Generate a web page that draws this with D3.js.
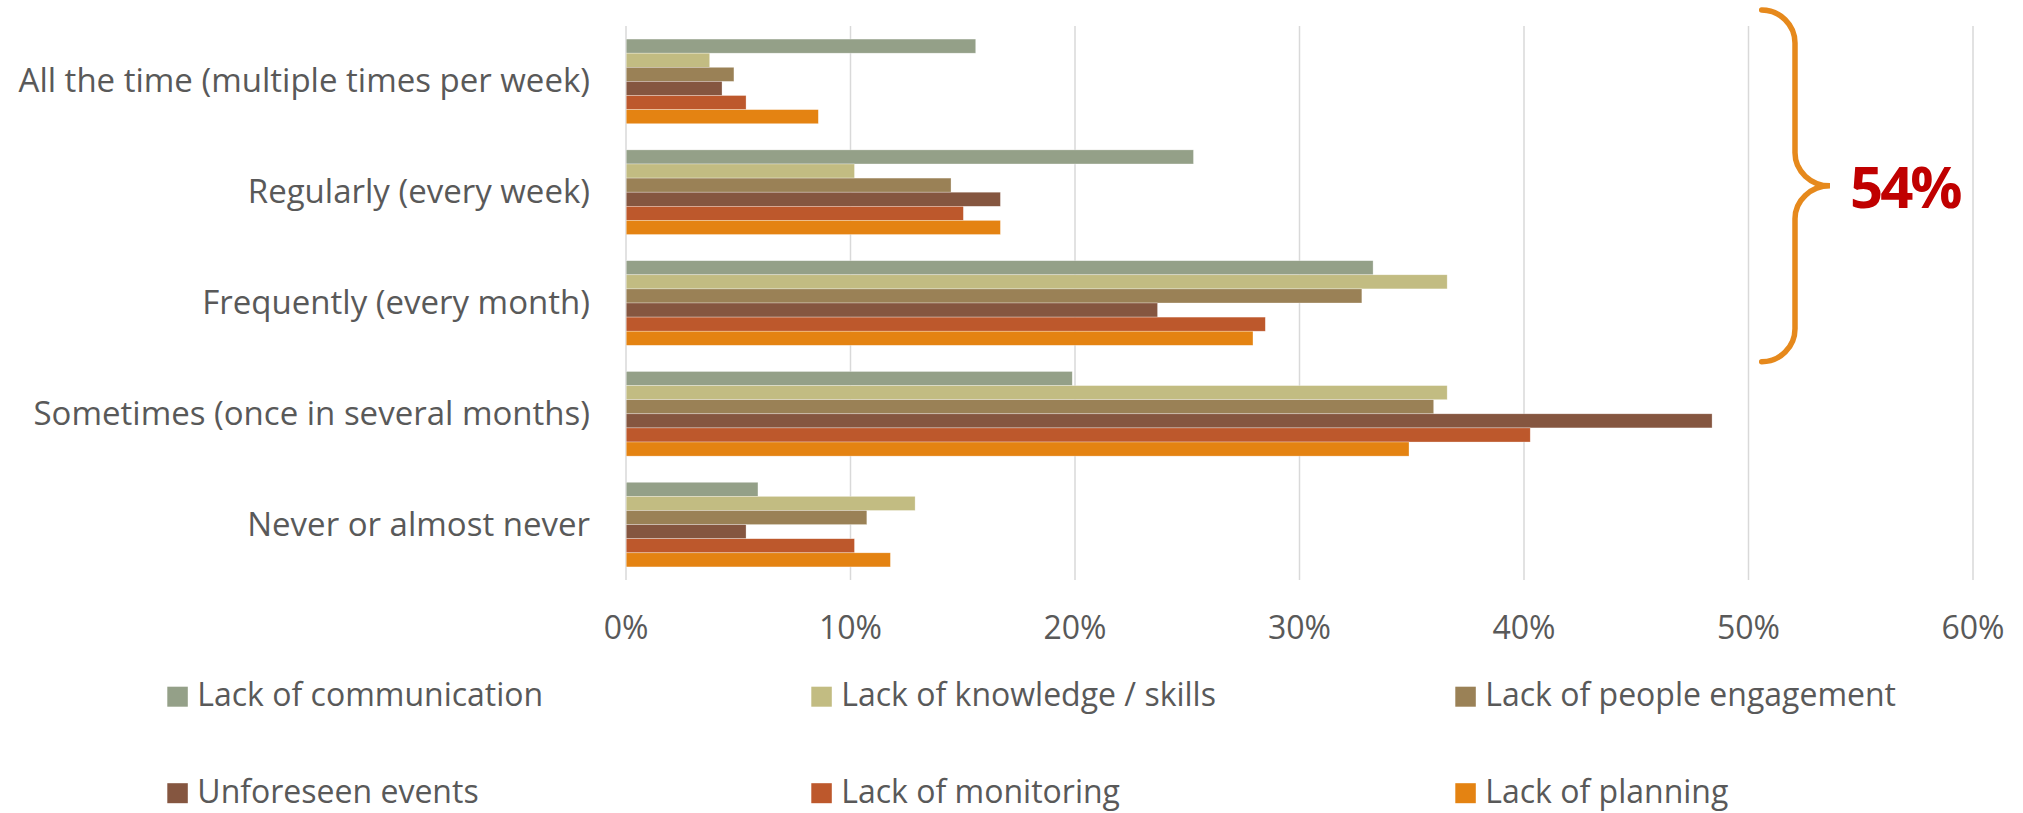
<!DOCTYPE html>
<html>
<head>
<meta charset="utf-8">
<script src="https://cdn.jsdelivr.net/npm/d3@7"></script>
<style>
  body { margin: 0; background: #fff; }
  text { font-family: "Open Sans", sans-serif; fill: #595959; }
</style>
</head>
<body>
<svg id="chart" width="2023" height="813"></svg>
<script>
// categories top -> bottom
const categories = [
  "All the time (multiple times per week)",
  "Regularly (every week)",
  "Frequently (every month)",
  "Sometimes (once in several months)",
  "Never or almost never"
];

const seriesNames = [
  "Lack of communication",
  "Lack of knowledge / skills",
  "Lack of people engagement",
  "Unforeseen events",
  "Lack of monitoring",
  "Lack of planning"
];

const seriesColors = ["#94A088", "#C2BC82", "#9A8156", "#855640", "#BD582C", "#E48312"];

// % per category, one array per series
const communication = [15.6, 25.3, 33.3, 19.9, 5.9];
const knowledge     = [3.75, 10.2, 36.6, 36.6, 12.9];
const engagement    = [4.83, 14.5, 32.8, 36.0, 10.75];
const unforeseen    = [4.3, 16.7, 23.7, 48.4, 5.37];
const monitoring    = [5.37, 15.05, 28.5, 40.3, 10.2];
const planning      = [8.59, 16.7, 27.95, 34.9, 11.8];

const xTicks = [0, 10, 20, 30, 40, 50, 60];

const seriesValues = [communication, knowledge, engagement, unforeseen, monitoring, planning];

// flat table for the bars
const rows = [];
categories.forEach((c, ci) => {
  seriesNames.forEach((s, si) => rows.push({cat: c, series: s, value: seriesValues[si][ci]}));
});

const svg = d3.select("#chart");

const margin = {left: 625.5, right: 50.5, top: 26, bottom: 233};
const width = 2023 - margin.left - margin.right;
const height = 813 - margin.top - margin.bottom;

const x = d3.scaleLinear().domain([0, 60]).range([margin.left, margin.left + width]);
const y = d3.scaleBand().domain(categories)
  .range([margin.top, margin.top + height])
  .paddingInner(0.236).paddingOuter(0.118);
const ySub = d3.scaleBand().domain(seriesNames).range([0, y.bandwidth()]);
const color = d3.scaleOrdinal().domain(seriesNames).range(seriesColors);

// gridlines (incl. the 0% axis line)
svg.append("g")
  .attr("transform", `translate(0,${margin.top + height})`)
  .call(d3.axisBottom(x).tickValues(xTicks).tickSize(-height).tickFormat(""))
  .call(g => g.select(".domain").remove())
  .call(g => g.selectAll("line").attr("stroke", "#D9D9D9").attr("stroke-width", 1.5));

// bars
svg.append("g")
  .selectAll("rect")
  .data(rows)
  .join("rect")
  .attr("x", x(0) + 0.75)
  .attr("y", d => y(d.cat) + ySub(d.series))
  .attr("width", d => x(d.value) - x(0) - 0.75)
  .attr("height", ySub.bandwidth())
  .attr("fill", d => color(d.series))
  .attr("stroke", "rgba(255,255,255,0.5)")
  .attr("stroke-width", 0.6);

// x tick labels
svg.append("g")
  .attr("transform", `translate(0,${margin.top + height})`)
  .call(d3.axisBottom(x).tickValues(xTicks).tickSize(0).tickPadding(36).tickFormat(d => d + "%"))
  .call(g => g.select(".domain").remove())
  .call(g => g.selectAll("text").attr("font-size", 32).attr("font-family", null).attr("fill", "#595959"));

// category labels
svg.append("g")
  .selectAll("text")
  .data(categories)
  .join("text")
  .attr("x", 590)
  .attr("y", d => y(d) + y.bandwidth() / 2 + 11)
  .attr("text-anchor", "end")
  .attr("font-size", 33)
  .text(d => d);

// legend: 3 columns x 2 rows
const legend = svg.append("g")
  .selectAll("g")
  .data(seriesNames)
  .join("g")
  .attr("transform", (d, i) => `translate(${167.3 + (i % 3) * 644},${686.7 + Math.floor(i / 3) * 96.5})`);

legend.append("rect")
  .attr("width", 20.5)
  .attr("height", 20)
  .attr("fill", d => color(d));

legend.append("text")
  .attr("x", 30)
  .attr("y", 19.5)
  .attr("font-size", 32)
  .text(d => d);

// brace annotation over the first three categories
const bx0 = 1761.7, bx1 = 1795, bx2 = 1830;
const braceTop = 10, braceBottom = 361.7, braceMid = (braceTop + braceBottom) / 2, r = 33;
const p = d3.path();
p.moveTo(bx0, braceTop);
p.bezierCurveTo(bx0 + 0.55 * (bx1 - bx0), braceTop, bx1, braceTop + 0.45 * r, bx1, braceTop + r);
p.lineTo(bx1, braceMid - r);
p.bezierCurveTo(bx1, braceMid - 0.45 * r, bx2 - 0.55 * (bx2 - bx1), braceMid, bx2, braceMid);
p.bezierCurveTo(bx2 - 0.55 * (bx2 - bx1), braceMid, bx1, braceMid + 0.45 * r, bx1, braceMid + r);
p.lineTo(bx1, braceBottom - r);
p.bezierCurveTo(bx1, braceBottom - 0.45 * r, bx0 + 0.55 * (bx1 - bx0), braceBottom, bx0, braceBottom);

svg.append("path")
  .attr("d", p.toString())
  .attr("fill", "none")
  .attr("stroke", "#E6891C")
  .attr("stroke-width", 5.5)
  .attr("stroke-linecap", "round");

svg.append("text")
  .attr("x", 1850)
  .attr("y", 208.3)
  .attr("font-size", 58)
  .attr("font-weight", "bold")
  .attr("letter-spacing", -3)
  .style("fill", "#C00000")
  .text("54%");
</script>
</body>
</html>
